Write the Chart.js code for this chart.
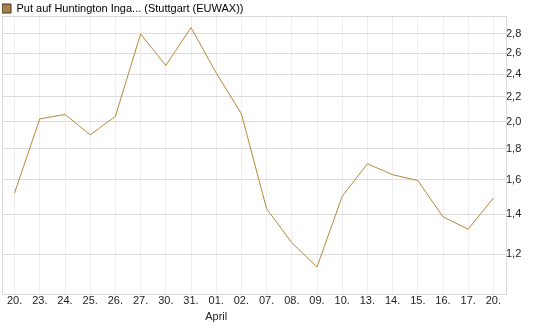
<!DOCTYPE html>
<html>
<head>
<meta charset="utf-8">
<script src="https://cdn.jsdelivr.net/npm/chart.js@4"></script>
<style>
  html, body { margin: 0; padding: 0; background: #fff; }
  #wrap { width: 545px; height: 327px; }
</style>
</head>
<body>
<div id="wrap"><canvas id="kursChart"></canvas></div>
<script>
let labels = ['20.', '23.', '24.', '25.', '26.', '27.', '30.', '31.', '01.', '02.', '07.', '08.', '09.', '10.', '13.', '14.', '15.', '16.', '17.', '20.'];
let monthLabel = ['', '', '', '', '', '', '', '', 'April', '', '', '', '', '', '', '', '', '', '', ''];
let prices = [1.52, 2.02, 2.055, 1.90, 2.04, 2.80, 2.48, 2.87, 2.41, 2.06, 1.43, 1.255, 1.143, 1.50, 1.70, 1.63, 1.594, 1.386, 1.322, 1.49];
let yTicks = [1.2, 1.4, 1.6, 1.8, 2.0, 2.2, 2.4, 2.6, 2.8];

Chart.defaults.font.family = '"Liberation Sans", Arial, sans-serif';
Chart.defaults.font.size = 11;
Chart.defaults.color = '#222';

// rahmen um den plotbereich
let frame = {
    id: 'frame',
    afterDraw(chart) {
        let a = chart.chartArea;
        let ctx = chart.ctx;
        ctx.save();
        ctx.strokeStyle = '#d9d9d9';
        ctx.lineWidth = 1;
        ctx.strokeRect(Math.round(a.left) + 0.5, Math.round(a.top) + 0.5, Math.round(a.right - a.left), Math.round(a.bottom - a.top));
        ctx.restore();
    }
};

new Chart(document.getElementById('kursChart'), {
    type: 'line',
    data: {
        labels: labels,
        datasets: [{
            label: 'Put auf Huntington Inga... (Stuttgart (EUWAX))',
            data: prices,
            borderColor: '#b8873a',
            backgroundColor: '#a8834f',
            borderWidth: 1,
            pointRadius: 0,
            tension: 0
        }]
    },
    options: {
        responsive: true,
        maintainAspectRatio: false,
        animation: false,
        layout: { padding: { left: 2, right: 0, top: 3, bottom: 3 } },
        plugins: {
            legend: {
                align: 'start',
                maxHeight: 13,
                labels: {
                    boxWidth: 9,
                    boxHeight: 9,
                    padding: 0,
                    color: '#222',
                    generateLabels(chart) {
                        return [{
                            text: chart.data.datasets[0].label,
                            fillStyle: '#a8834f',
                            strokeStyle: '#4a3518',
                            lineWidth: 1,
                            datasetIndex: 0
                        }];
                    }
                }
            },
            tooltip: { enabled: false }
        },
        scales: {
            x: {
                offset: true,
                grid: { color: '#eeeeee', drawTicks: false },
                border: { color: '#d9d9d9' },
                ticks: {
                    padding: -1,
                    maxRotation: 0,
                    autoSkip: false,
                    font: { lineHeight: 1.45 },
                    callback: function(v, i) {
                        return monthLabel[i] ? [labels[i], monthLabel[i]] : labels[i];
                    }
                }
            },
            y: {
                type: 'logarithmic',
                position: 'right',
                min: 1.03,
                max: 3.0,
                grid: { color: '#dcdcdc', drawTicks: false },
                border: { color: '#d9d9d9' },
                afterBuildTicks: function(axis) {
                    axis.ticks = yTicks.map(v => ({ value: v }));
                },
                afterFit: function(axis) {
                    axis.width = 39;
                    axis.paddingTop = 0;
                    axis.paddingBottom = 0;
                },
                ticks: {
                    padding: 0,
                    callback: function(v) {
                        return v.toFixed(1).replace('.', ',');
                    }
                }
            }
        }
    },
    plugins: [frame]
});
</script>
</body>
</html>
